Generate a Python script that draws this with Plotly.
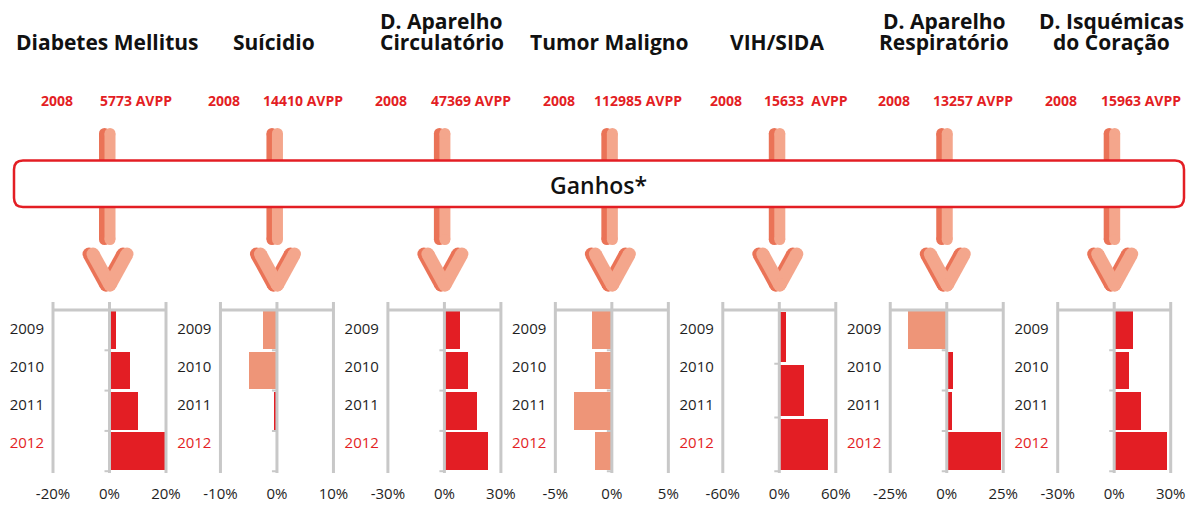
import plotly.graph_objects as go

# ---------------- data ----------------
titles = ["Diabetes Mellitus", "Suícidio", "D. Aparelho<br>Circulatório", "Tumor Maligno",
          "VIH/SIDA", "D. Aparelho<br>Respiratório", "D. Isquémicas<br>do Coração"]
base_year = "2008"
avpp_2008 = ["5773 AVPP", "14410 AVPP", "47369 AVPP", "112985 AVPP",
             "15633\u00a0 AVPP", "13257 AVPP", "15963 AVPP"]
years = ["2009", "2010", "2011", "2012"]
axis_max = [20, 10, 30, 5, 60, 25, 30]

diabetes = [2.4, 7.2, 10.1, 19.5]
suicidio = [-2.4, -5.0, -0.5, 0.0]
circulatorio = [8.4, 12.7, 17.5, 22.9]
tumor = [-1.74, -1.47, -3.33, -1.47]
vih = [7.2, 25.9, 51.7]
respiratorio = [-17.3, 2.7, 2.2, 24.1]
isquemicas = [9.9, 7.8, 14.1, 27.9]
series = [diabetes, suicidio, circulatorio, tumor, vih, respiratorio, isquemicas]

box_label = "Ganhos*"

# ---------------- style ----------------
W, H = 1193, 505
RED = "#E31E24"
SALMON = "#EE9578"
ARROW_LIGHT = "#F4A68C"
ARROW_DARK = "#EA7357"
GRID = "#C8C8C8"
TXT = "#1E1E1E"
FONT = "Open Sans"

PANEL_LEFT0 = 53.0
PANEL_STEP = 167.45
PANEL_W = 113.0
PAD = 3.0
TOP_PX, BOT_PX = 302.0, 473.0
SLOT_PX = 40.3
ZERO_ROW_PX = 310.0
LABEL_SCALE = 0.94  # year labels sit slightly tighter than the bar slots

fig = go.Figure()
shapes = []
annotations = []

def px_x(p):
    return p / W

def px_y(p):
    return 1 - p / H

y_top = -(ZERO_ROW_PX - TOP_PX) / SLOT_PX
y_bot = (BOT_PX - ZERO_ROW_PX) / SLOT_PX

for k, (vals, m) in enumerate(zip(series, axis_max)):
    ax = "" if k == 0 else str(k + 1)
    xa, ya = "x" + ax, "y" + ax
    left = PANEL_LEFT0 + PANEL_STEP * k
    right = left + PANEL_W
    half = PANEL_W / 2
    ext = m * (half + PAD) / half
    n = len(vals)
    slot = len(years) / n
    ys = [(i + 0.5) * slot for i in range(n)]
    colors = [SALMON if v < -1 else RED for v in vals]
    fig.add_trace(go.Bar(x=vals, y=ys, orientation="h", width=slot * 0.94,
                         marker=dict(color=colors, line=dict(width=0)),
                         xaxis=xa, yaxis=ya, showlegend=False, hoverinfo="skip"))
    tick_text = [f"{-m}%", "0%", f"{m}%"]
    ytext = [y if i < len(years) - 1 else f'<span style="color:{RED}">{y}</span>'
             for i, y in enumerate(years)]
    fig.layout["xaxis" + ax] = dict(
        domain=[px_x(left - PAD), px_x(right + PAD)], range=[-ext, ext],
        anchor=ya, showgrid=False, zeroline=False, showline=False, automargin=False,
        tickvals=[-m, 0, m], ticktext=tick_text, ticks="",
        ticklabelstandoff=10,
        tickfont=dict(family=FONT, size=15, color=TXT), fixedrange=True)
    fig.layout["yaxis" + ax] = dict(
        domain=[px_y(BOT_PX), px_y(TOP_PX)], range=[y_bot, y_top],
        anchor=xa, showgrid=False, zeroline=False, showline=False, automargin=False,
        tickvals=[(i + 0.5) * LABEL_SCALE for i in range(len(years))], ticktext=ytext, ticks="",
        ticklabelstandoff=5,
        tickfont=dict(family=FONT, size=15, color=TXT), fixedrange=True)
    # grey frame lines
    for xv in (-m, 0, m):
        shapes.append(dict(type="line", xref=xa, yref=ya, x0=xv, x1=xv, y0=y_top, y1=y_bot,
                           line=dict(color=GRID, width=3), layer="above"))
    shapes.append(dict(type="line", xref=xa, yref=ya, x0=-m, x1=m, y0=0, y1=0,
                       line=dict(color=GRID, width=3), layer="above"))
    # small tick marks on the category axis
    for i in range(1, n + 1):
        shapes.append(dict(type="line", xref=xa, yref=ya, xsizemode="pixel", xanchor=0,
                           x0=-5, x1=0, y0=i * slot, y1=i * slot,
                           line=dict(color=GRID, width=2), layer="above"))
    # header texts
    c = left + half - 2.5
    lines = titles[k].split("<br>")
    for j, t in enumerate(reversed(lines)):
        annotations.append(dict(text=t, x=px_x(c), y=px_y(42 - 21 * j), xref="paper", yref="paper",
                                xanchor="center", yanchor="middle", showarrow=False,
                                font=dict(family=FONT, size=21, color="#111111", weight=700)))
    annotations.append(dict(text=base_year, x=px_x(c - 50.5), y=px_y(101), xref="paper", yref="paper",
                            xanchor="center", yanchor="middle", showarrow=False,
                            font=dict(family=FONT, size=14, color=RED, weight=700)))
    annotations.append(dict(text=avpp_2008[k], x=px_x(c + 29), y=px_y(101), xref="paper", yref="paper",
                            xanchor="center", yanchor="middle", showarrow=False,
                            font=dict(family=FONT, size=14, color=RED, weight=700)))
    # arrow graphic (dark shadow then light face)
    for dx, col in ((-2.5, ARROW_DARK), (3.0, ARROW_LIGHT)):
        fig.add_trace(go.Scatter(x=[c + dx, c + dx], y=[133.5, 239.5], mode="lines+markers",
                                 line=dict(color=col, width=11), marker=dict(color=col, size=11),
                                 xaxis="x8", yaxis="y8", showlegend=False, hoverinfo="skip"))
    for dx, col in ((-1.0, ARROW_DARK), (3.0, ARROW_LIGHT)):
        cx = c + dx
        fig.add_trace(go.Scatter(x=[cx - 17, cx, None, cx + 17, cx], y=[254, 285, None, 254, 285],
                                 mode="lines+markers", connectgaps=False,
                                 line=dict(color=col, width=13), marker=dict(color=col, size=13),
                                 xaxis="x8", yaxis="y8", showlegend=False, hoverinfo="skip"))

fig.layout["xaxis8"] = dict(domain=[0, 1], range=[0, W], anchor="y8", visible=False,
                            fixedrange=True, automargin=False)
fig.layout["yaxis8"] = dict(domain=[0, 1], range=[H, 0], anchor="x8", visible=False,
                            fixedrange=True, automargin=False)

# Ganhos box
bx0, bx1, by0, by1, r = 14, 1184, 160.5, 207, 9
path = (f"M {bx0 + r},{by0} L {bx1 - r},{by0} Q {bx1},{by0} {bx1},{by0 + r} "
        f"L {bx1},{by1 - r} Q {bx1},{by1} {bx1 - r},{by1} L {bx0 + r},{by1} "
        f"Q {bx0},{by1} {bx0},{by1 - r} L {bx0},{by0 + r} Q {bx0},{by0} {bx0 + r},{by0} Z")
shapes.append(dict(type="path", path=path, xref="x8", yref="y8", fillcolor="white",
                   line=dict(color=RED, width=2.5), layer="above"))
annotations.append(dict(text=box_label, x=px_x(598), y=px_y(185), xref="paper", yref="paper",
                        xanchor="center", yanchor="middle", showarrow=False,
                        font=dict(family=FONT, size=23, color="#111111", weight=600)))

fig.update_layout(width=W, height=H, margin=dict(l=0, r=0, t=0, b=0, autoexpand=False),
                  autosize=False,
                  paper_bgcolor="white", plot_bgcolor="rgba(0,0,0,0)",
                  shapes=shapes, annotations=annotations, bargap=0, barmode="overlay",
                  showlegend=False, font=dict(family=FONT, color=TXT))

fig.write_html("out.html", config={"displayModeBar": False, "staticPlot": True},
               post_script="document.body.style.margin='0';document.body.style.overflow='hidden';")
